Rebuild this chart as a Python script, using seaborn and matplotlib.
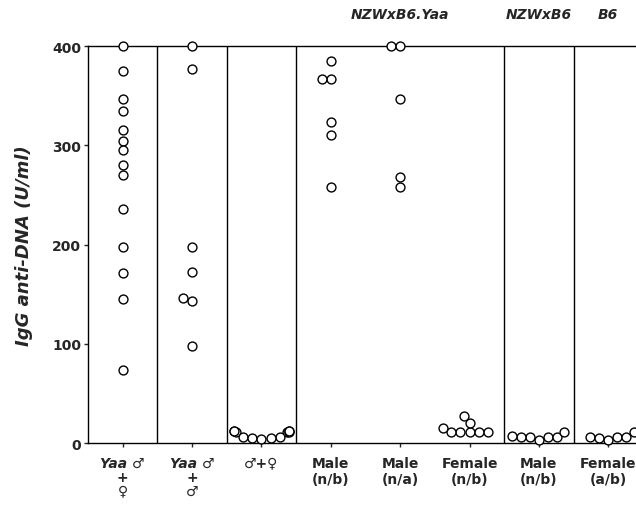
import pandas as pd
import matplotlib.pyplot as plt
import seaborn as sns

# groups, left to right
groups = ["g0", "g1", "g2", "g3", "g4", "g5", "g6", "g7"]
tick_labels = ["Yaa \u2642\n+\n\u2640", "Yaa \u2642\n+\n\u2642", "\u2642+\u2640",
               "Male\n(n/b)", "Male\n(n/a)", "Female\n(n/b)", "Male\n(n/b)", "Female\n(a/b)"]

# IgG anti-DNA (U/ml)
yaa_mix_female = [400, 375, 347, 335, 315, 304, 295, 280, 270, 236, 197, 171, 145, 74]
yaa_mix_male = [400, 377, 197, 172, 146, 143, 98]
mix_control = [12, 11, 12, 11, 12, 11, 12, 6, 5, 6, 5, 4]
yaa_male_nb = [385, 367, 367, 323, 310, 258]
yaa_male_na = [400, 400, 347, 268, 258]
yaa_female_nb = [11, 11, 11, 11, 11, 15, 20, 27]
nzw_male_nb = [6, 6, 6, 6, 11, 3, 7]
b6_female_ab = [6, 6, 6, 11, 3, 5]

all_values = [yaa_mix_female, yaa_mix_male, mix_control, yaa_male_nb,
              yaa_male_na, yaa_female_nb, nzw_male_nb, b6_female_ab]

rows = []
for g, vals in zip(groups, all_values):
    for v in vals:
        rows.append({"group": g, "value": v})
df = pd.DataFrame(rows)

# strain headers: (text, position)
headers = [("NZWxB6.Yaa", 4), ("NZWxB6", 6), ("B6", 7)]
dividers = [0.5, 1.5, 2.5, 5.5, 6.5]

sns.set_style("white")
plt.rcParams["font.family"] = ["DejaVu Sans"]

fig = plt.figure(figsize=(6.36, 5.06), dpi=100)
ax = fig.add_axes([0.1384, 0.1225, 0.8616, 0.7846])

# swarm laid out with slightly smaller circles so close values may touch, as in the original
swarm_size, shown_size = 5.3, 6.4
sns.swarmplot(data=df, x="group", y="value", order=groups, ax=ax,
              color="white", edgecolor="black", linewidth=1, size=swarm_size)

ax.set_xlim(-0.5, 7.4)
ax.set_ylim(0, 400)
ax.vlines(dividers, 0, 400, color="black", lw=1)

for side in ["left", "bottom", "top"]:
    ax.spines[side].set_color("black")
    ax.spines[side].set_linewidth(1)
ax.spines["right"].set_visible(False)

ax.set_yticks([0, 100, 200, 300, 400])
ax.set_yticklabels(["0", "100", "200", "300", "400"], fontsize=10, fontweight="bold")
ax.tick_params(axis="y", direction="out", length=3, width=1, pad=2, left=True)
ax.tick_params(axis="x", direction="out", length=3, width=1, pad=6, bottom=True)

ax.set_xticks(range(len(groups)))
ax.set_xticklabels(tick_labels, fontsize=10, fontweight="bold", va="top")
for i, lab in enumerate(ax.get_xticklabels()):
    if i < 2:
        lab.set_style("italic")
        lab.set_linespacing(1.0)
    else:
        lab.set_linespacing(1.25)

ax.set_xlabel("")
ax.set_ylabel("IgG anti-DNA (U/ml)", fontsize=13, fontweight="bold",
              fontstyle="italic", labelpad=14)

for text, pos in headers:
    ax.text(pos, 432, text, ha="center", va="center", fontsize=10,
            fontweight="bold", fontstyle="italic", clip_on=False)

# run the swarm layout once, then keep positions and enlarge the circles
fig.canvas.draw()
for c in list(ax.collections):
    if "draw" in vars(c):
        del c.draw
        c.set_sizes(c.get_sizes() * (shown_size / swarm_size) ** 2)
        c.set_clip_on(False)

fig.savefig("out.png", dpi=100)
